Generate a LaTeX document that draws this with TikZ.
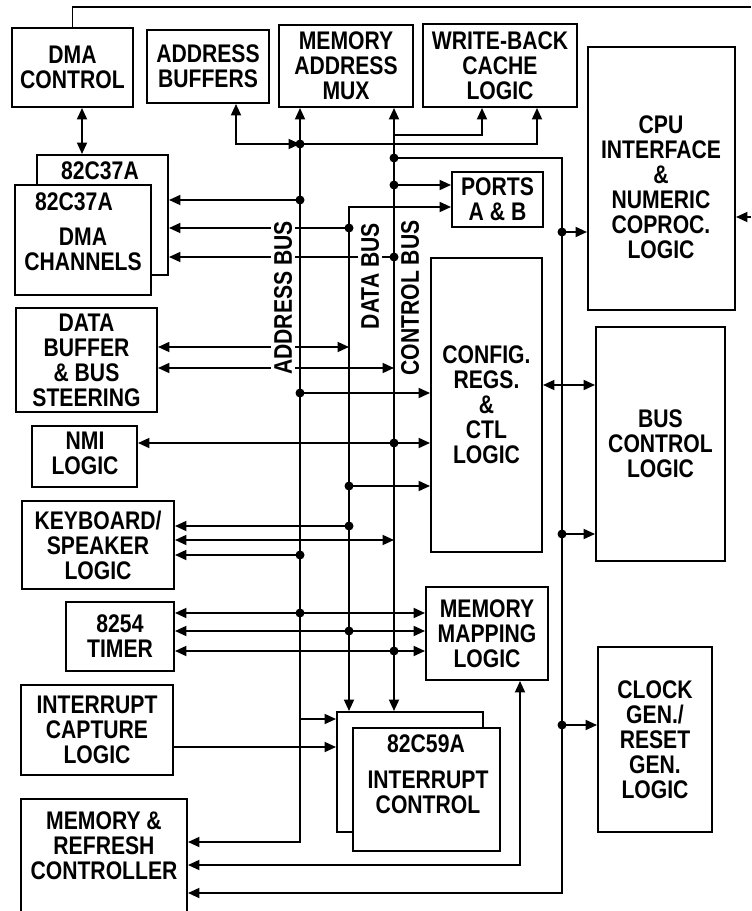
\documentclass[tikz,border=0pt]{standalone}
\usepackage{fontspec}
\setmainfont[FakeStretch=0.83]{Liberation Sans}
\usetikzlibrary{arrows.meta,fit}

\tikzset{
  blk/.style={draw, fill=white, inner sep=0pt},
  txt/.style={align=center},
  arr/.style={-{Triangle[length=0.23cm,width=0.2cm]}},
  darr/.style={{Triangle[length=0.23cm,width=0.2cm]}-{Triangle[length=0.23cm,width=0.2cm]}},
  buslbl/.style={rotate=90, fill=white, inner sep=1.5pt},
}

\begin{document}
\begin{tikzpicture}[x=0.02cm, y=-0.02cm, line width=1.1pt,
    font=\fontsize{14.5pt}{14.2pt}\selectfont\bfseries]
    % Настройки
    \def\jr{4.5} % радиус точки на шине

    \useasboundingbox (0,0) rectangle (751,911);

    % Верхний ряд блоков
    \node[blk, fit={(12,28) (133,107)}] (dmac) {};
    \node[blk, fit={(147,30) (269,103)}] (adrbuf) {};
    \node[blk, fit={(279,25) (413,107)}] (mux) {};
    \node[blk, fit={(423,24) (577,107)}] (wbc) {};
    \node[blk, fit={(588,47) (735,310)}] (cpu) {};
    \node[txt] (dmact) at (dmac.center) {DMA\\CONTROL};
    \node[txt] (adrbuft) at (adrbuf.center) {ADDRESS\\BUFFERS};
    \node[txt] (muxt) at (mux.center) {MEMORY\\ADDRESS\\MUX};
    \node[txt] (wbct) at (wbc.center) {WRITE-BACK\\CACHE\\LOGIC};
    \node[txt] (cput) at (661,187) {CPU\\INTERFACE\\\&\\NUMERIC\\COPROC.\\LOGIC};

    % Левый столбец
    \node[blk, fit={(37,155) (168,275)}] (dmab) {};
    \node[blk, fit={(15,185) (151,295)}] (dmaf) {};
    \node (dmabt) at (100,171) {82C37A};
    \node (dmaft) at (74,202) {82C37A};
    \node[txt] (dmacht) at (83,249) {DMA\\CHANNELS};
    \node[blk, fit={(16,308) (157,412)}] (databuf) {};
    \node[blk, fit={(32,426) (137,487)}] (nmi) {};
    \node[blk, fit={(22,501) (174,589)}] (kbd) {};
    \node[blk, fit={(66,602) (174,671)}] (timer) {};
    \node[blk, fit={(21,685) (173,775)}] (intcap) {};
    \node[blk, fit={(21,799) (187,940)}] (memref) {};
    \node[txt] (databuft) at (databuf.center) {DATA\\BUFFER\\\& BUS\\STEERING};
    \node[txt] (nmit) at (85,453) {NMI\\LOGIC};
    \node[txt] (kbdt) at (kbd.center) {KEYBOARD/\\SPEAKER\\LOGIC};
    \node[txt] (timert) at (timer.center) {8254\\TIMER};
    \node[txt] (intcapt) at (intcap.center) {INTERRUPT\\CAPTURE\\LOGIC};
    \node[txt] (memreft) at (104,846) {MEMORY \&\\REFRESH\\CONTROLLER};

    % Средний столбец
    \node[blk, fit={(452,172) (543,227)}] (ports) {};
    \node[blk, fit={(431,258) (542,552)}] (config) {};
    \node[blk, fit={(426,587) (548,680)}] (mmap) {};
    \node[blk, fit={(337,712) (483,832)}] (picb) {};
    \node[blk, fit={(353,728) (500,851)}] (picf) {};
    \node[txt] (portst) at (ports.center) {PORTS\\A \& B};
    \node[txt] (configt) at (config.center) {CONFIG.\\REGS.\\\&\\CTL\\LOGIC};
    \node[txt] (mmapt) at (mmap.center) {MEMORY\\MAPPING\\LOGIC};
    \node (picft) at (426,744) {82C59A};
    \node[txt] (picct) at (428,792) {INTERRUPT\\CONTROL};

    % Правый столбец
    \node[blk, fit={(596,327) (725,561)}] (busctl) {};
    \node[blk, fit={(598,647) (712,832)}] (clock) {};
    \node[txt] (busctlt) at (busctl.center) {BUS\\CONTROL\\LOGIC};
    \node[txt] (clockt) at (clock.center) {CLOCK\\GEN./\\RESET\\GEN.\\LOGIC};

    % Точки на шине адреса
    \coordinate (ab) at (236,144);
    \coordinate (a0) at (300,144);
    \coordinate (a1) at (300,200);
    \coordinate (a2) at (300,393);
    \coordinate (a3) at (300,555);
    \coordinate (a4) at (300,613);
    \coordinate (a5) at (300,719);
    \coordinate (am) at (300,842);
    \coordinate (wb2) at (537,144);

    % Точки на шине данных
    \coordinate (d0) at (349,207);
    \coordinate (d1) at (349,228);
    \coordinate (d2) at (349,347);
    \coordinate (d3) at (349,486);
    \coordinate (d4) at (349,526);
    \coordinate (d5) at (349,631);

    % Точки на шине управления
    \coordinate (c0) at (394,135);
    \coordinate (wb1) at (482,135);
    \coordinate (c2) at (394,158);
    \coordinate (c3) at (394,185);
    \coordinate (c4) at (394,257);
    \coordinate (c5) at (394,368);
    \coordinate (c6) at (394,443);
    \coordinate (c7) at (394,540);
    \coordinate (c8) at (394,651);

    % Правая шина и прочее
    \coordinate (r0) at (562,158);
    \coordinate (r1) at (562,232);
    \coordinate (r2) at (562,534);
    \coordinate (r3) at (562,725);
    \coordinate (r9) at (562,893);
    \coordinate (k1) at (82,130);
    \coordinate (k2) at (562,385);
    \coordinate (i1) at (300,747);
    \coordinate (mm1) at (520,865);
    \coordinate (t0) at (751,7);
    \coordinate (t1) at (751,217);

    % Шина адреса
    \draw[darr] (am -| memref.east) -- (am) -- (am |- mux.south);
    \draw[darr] (ab |- adrbuf.south) -- (ab) -- (a0);
    \draw[arr] (a0) -- (wb2) -- (wb2 |- wbc.south);
    \draw[arr] (a1) -- (a1 -| dmab.east);
    \draw[arr] (a2) -- (a2 -| config.west);
    \draw[arr] (a3) -- (a3 -| kbd.east);
    \draw[darr] (a4 -| timer.east) -- (a4 -| mmap.west);
    \draw[arr] (a5) -- (a5 -| picb.west);

    % Шина данных
    \draw[darr] (d0 |- picb.north) -- (d0) -- (d0 -| ports.west);
    \draw[arr] (d1) -- (d1 -| dmab.east);
    \draw[darr] (d2 -| databuf.east) -- (d2);
    \draw[arr] (d3) -- (d3 -| config.west);
    \draw[arr] (d4) -- (d4 -| kbd.east);
    \draw[darr] (d5 -| timer.east) -- (d5 -| mmap.west);

    % Шина управления
    \draw[darr] (c0 |- mux.south) -- (c0 |- picb.north);
    \draw[arr] (c0) -- (wb1) -- (wb1 |- wbc.south);
    \draw[arr] (c2) -- (r0) -- (r9) -- (r9 -| memref.east);
    \draw[arr] (c3) -- (c3 -| ports.west);
    \draw[arr] (c4) -- (c4 -| dmab.east);
    \draw[darr] (c5 -| databuf.east) -- (c5);
    \draw[darr] (c6 -| nmi.east) -- (c6 -| config.west);
    \draw[darr] (c7 -| kbd.east) -- (c7);
    \draw[darr] (c8 -| timer.east) -- (c8 -| mmap.west);

    % Правая шина
    \draw[arr] (r1) -- (r1 -| cpu.west);
    \draw[arr] (r2) -- (r2 -| busctl.west);
    \draw[arr] (r3) -- (r3 -| clock.west);
    \draw[darr] (k2 -| config.east) -- (k2 -| busctl.west);

    % Прочие связи
    \draw[darr] (k1 |- dmac.south) -- (k1 |- dmab.north);
    \draw[arr] (i1 -| intcap.east) -- (i1 -| picb.west);
    \draw[darr] (mm1 -| memref.east) -- (mm1) -- (mm1 |- mmap.south);
    \draw (dmac.north) -- (dmac.north |- t0) -- (t0);
    \draw[arr] (t1) -- (t1 -| cpu.east);

    % Подписи шин
    \node[buslbl] (lbla) at (283,298) {ADDRESS BUS};
    \node[buslbl] (lbld) at (370,276) {DATA BUS};
    \node[buslbl] (lblc) at (410,298) {CONTROL BUS};

    % Точки соединения
    \fill (a0) circle (\jr) (a1) circle (\jr) (a2) circle (\jr)
          (a3) circle (\jr) (a4) circle (\jr)
          (d1) circle (\jr) (d3) circle (\jr) (d4) circle (\jr) (d5) circle (\jr)
          (c2) circle (\jr) (c3) circle (\jr) (c4) circle (\jr)
          (c6) circle (\jr) (c8) circle (\jr)
          (r1) circle (\jr) (r2) circle (\jr) (r3) circle (\jr);

\end{tikzpicture}
\end{document}
